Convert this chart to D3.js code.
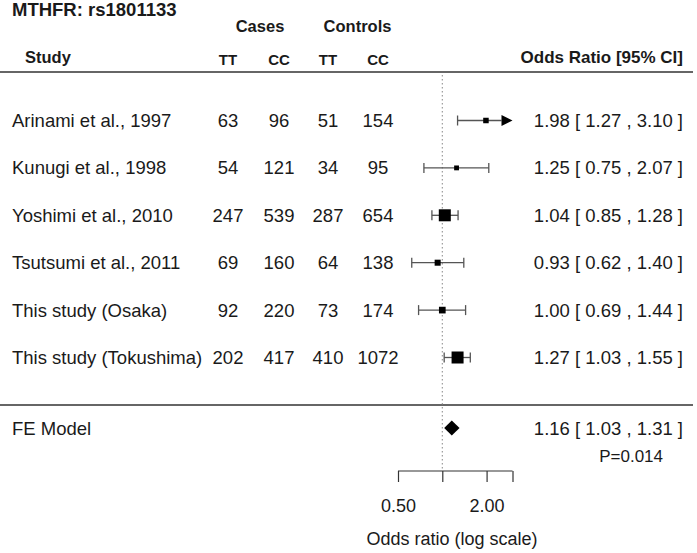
<!DOCTYPE html>
<html><head><meta charset="utf-8">
<script src="https://cdn.jsdelivr.net/npm/d3@7"></script>
<style>body{margin:0;background:#fff}svg{display:block}text{font-family:"Liberation Sans",Arial,Helvetica,sans-serif;fill:#1a1a1a}</style>
</head><body>
<script>
const studies = ["Arinami et al., 1997","Kunugi et al., 1998","Yoshimi et al., 2010","Tsutsumi et al., 2011","This study (Osaka)","This study (Tokushima)"];
const casesTT = [63,54,247,69,92,202];
const casesCC = [96,121,539,160,220,417];
const ctrlTT = [51,34,287,64,73,410];
const ctrlCC = [154,95,654,138,174,1072];
const orVal = [1.98,1.25,1.04,0.93,1.00,1.27];
const ciLow = [1.27,0.75,0.85,0.62,0.69,1.03];
const ciHigh = [3.10,2.07,1.28,1.40,1.44,1.55];
const weights = [19.3,14.9,91.8,23.2,28.4,91.8];
const fe = {label:"FE Model", or:1.16, lo:1.03, hi:1.31, p:"P=0.014"};
const tickVals = [0.5,1,2,3];
const tickLabels = ["0.50","","2.00",""];

const W=697,H=553;
const svg=d3.select("body").append("svg").attr("width",W).attr("height",H);
const x=d3.scaleLog().domain([0.5,3]).range([398,512.5]);
const y=d3.scalePoint().domain(studies).range([120.5,357.5]);
const sz=d3.scaleSqrt().domain([0,d3.max(weights)]).range([0,12]);
const fmt=d3.format(".2f");
const fs=18.5, hs=16.5;

// title & headers
svg.append("text").attr("x",12).attr("y",16).attr("font-size",18.5).attr("font-weight","bold").text("MTHFR: rs1801133");
svg.append("text").attr("x",260).attr("y",32).attr("font-size",hs).attr("font-weight","bold").attr("text-anchor","middle").text("Cases");
svg.append("text").attr("x",357.5).attr("y",32).attr("font-size",hs).attr("font-weight","bold").attr("text-anchor","middle").text("Controls");
svg.append("text").attr("x",25).attr("y",63).attr("font-size",hs).attr("font-weight","bold").text("Study");
const colX=[228,279,328,378];
["TT","CC","TT","CC"].forEach((t,i)=>svg.append("text").attr("x",colX[i]).attr("y",65).attr("font-size",15).attr("font-weight","bold").attr("text-anchor","middle").text(t));
svg.append("text").attr("x",683).attr("y",63).attr("font-size",17).attr("font-weight","bold").attr("text-anchor","end").text("Odds Ratio [95% CI]");

// horizontal rules
[72,405].forEach(yy=>svg.append("line").attr("x1",0).attr("x2",693).attr("y1",yy).attr("y2",yy).attr("stroke","#666").attr("stroke-width",2));

// reference line
svg.append("line").attr("x1",x(1)).attr("x2",x(1)).attr("y1",75).attr("y2",470).attr("stroke","#888").attr("stroke-width",1).attr("stroke-dasharray","1.5,2.5");

// rows
studies.forEach((s,i)=>{
  const yy=y(s);
  const g=svg.append("g");
  g.append("text").attr("x",12).attr("y",yy+6.5).attr("font-size",fs).text(s);
  [casesTT[i],casesCC[i],ctrlTT[i],ctrlCC[i]].forEach((v,j)=>g.append("text").attr("x",colX[j]).attr("y",yy+6.5).attr("font-size",fs).attr("text-anchor","middle").text(v));
  const lo=x(Math.max(ciLow[i],0.5)), clipped=ciHigh[i]>3, hi=x(Math.min(ciHigh[i],3));
  const lineEnd = clipped? hi-11 : hi;
  g.append("line").attr("x1",lo).attr("x2",lineEnd).attr("y1",yy).attr("y2",yy).attr("stroke","#555").attr("stroke-width",1.3);
  g.append("line").attr("x1",lo).attr("x2",lo).attr("y1",yy-5).attr("y2",yy+5).attr("stroke","#555").attr("stroke-width",1.3);
  if(clipped){
    g.append("path").attr("d",`M${hi-11},${yy-5.5}L${hi},${yy}L${hi-11},${yy+5.5}Z`).attr("fill","#000");
  } else {
    g.append("line").attr("x1",hi).attr("x2",hi).attr("y1",yy-5).attr("y2",yy+5).attr("stroke","#555").attr("stroke-width",1.3);
  }
  const s2=sz(weights[i]);
  g.append("rect").attr("x",x(orVal[i])-s2/2).attr("y",yy-s2/2).attr("width",s2).attr("height",s2).attr("fill","#000");
  g.append("text").attr("x",683).attr("y",yy+6.5).attr("font-size",fs).attr("text-anchor","end").attr("xml:space","preserve")
    .text(`${fmt(orVal[i])} [ ${fmt(ciLow[i])} , ${fmt(ciHigh[i])} ]`);
});

// FE model
const fy=428;
svg.append("text").attr("x",12).attr("y",fy+6.5).attr("font-size",fs).text(fe.label);
svg.append("path").attr("d",`M${x(fe.lo)},${fy}L${x(fe.or)},${fy-7.5}L${x(fe.hi)},${fy}L${x(fe.or)},${fy+7.5}Z`).attr("fill","#000");
svg.append("text").attr("x",683).attr("y",fy+6.5).attr("font-size",fs).attr("text-anchor","end").attr("xml:space","preserve").text(`${fmt(fe.or)} [ ${fmt(fe.lo)} , ${fmt(fe.hi)} ]`);
svg.append("text").attr("x",663).attr("y",462).attr("font-size",17).attr("text-anchor","end").text(fe.p);

// axis
const axis=d3.axisBottom(x).tickValues(tickVals).tickFormat((d,i)=>tickLabels[i]).tickSize(11);
const ag=svg.append("g").attr("transform","translate(0,471)").call(axis);
ag.select(".domain").attr("stroke","#333").attr("stroke-width",1.2).attr("d",`M${x(0.5)},0H${x(3)}`);
ag.selectAll(".tick line").attr("stroke","#333").attr("stroke-width",1.2);
ag.selectAll(".tick text").attr("y",41).attr("dy",0).attr("font-size",18).attr("font-family","Liberation Sans, Arial, sans-serif").attr("fill","#1a1a1a");
svg.append("text").attr("x",452).attr("y",545).attr("font-size",18).attr("text-anchor","middle").text("Odds ratio (log scale)");
</script>
</body></html>
